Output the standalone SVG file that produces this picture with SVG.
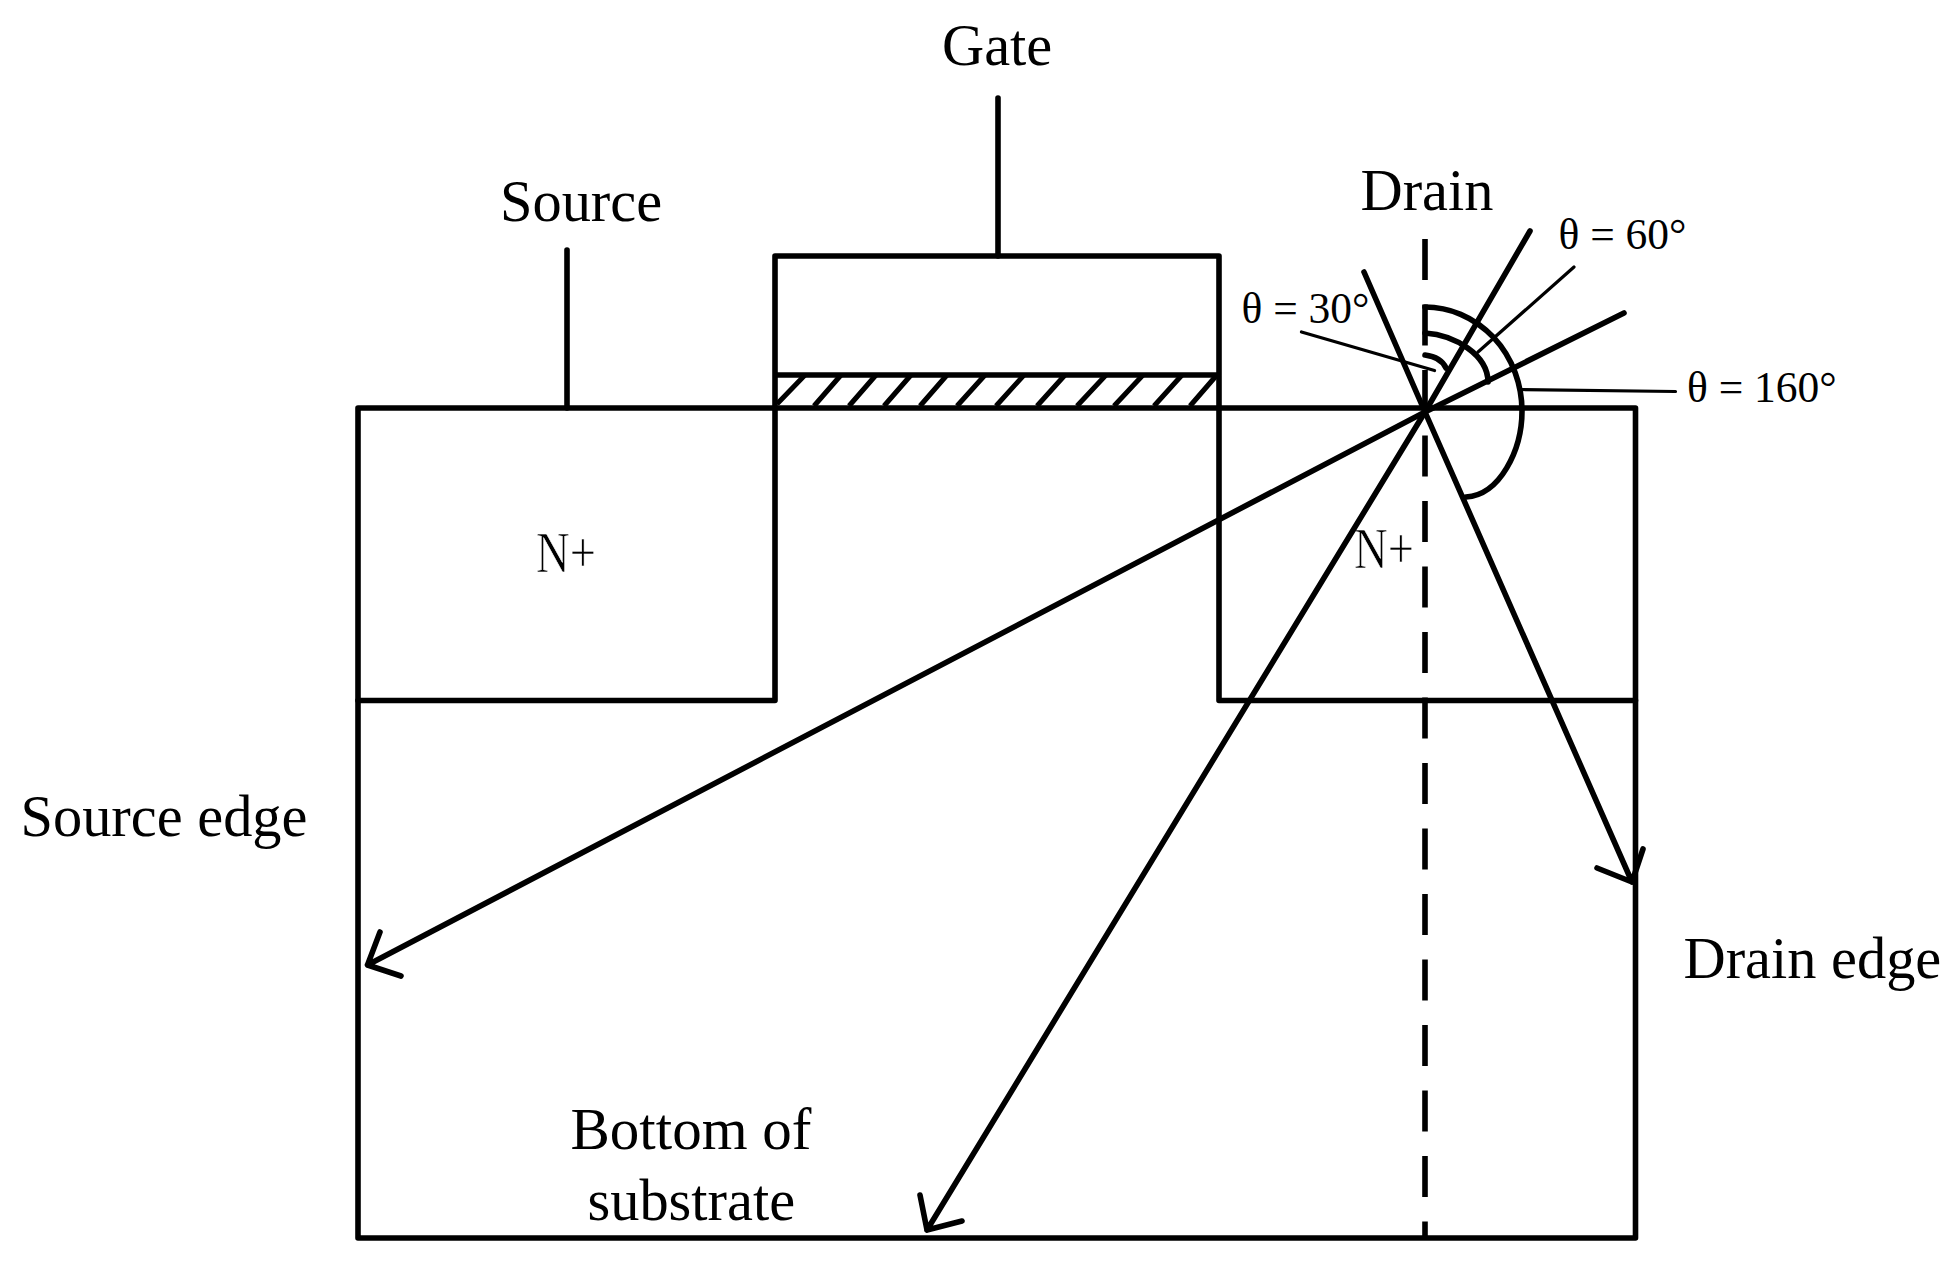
<svg xmlns="http://www.w3.org/2000/svg" width="1952" height="1273" viewBox="0 0 1952 1273">
<style>
.l{fill:none;stroke:#000;stroke-width:5.6;stroke-linecap:round;stroke-linejoin:round}
.h{fill:none;stroke:#000;stroke-width:5}
.t{fill:none;stroke:#000;stroke-width:3.2;stroke-linecap:round}
text{font-family:"Liberation Serif","Times New Roman",serif;fill:#000}
.b{font-size:58.400px}
.s{font-size:43.500px}
.n{font-size:56px;stroke:#fff;stroke-width:.6px}
</style>
<rect width="1952" height="1273" fill="#fff"/>
<g id="substrate"><path class="l" d="M358 408H1635.500V1238H358Z"/><text class="b" x="570.500" y="1149" textLength="241" lengthAdjust="spacingAndGlyphs">Bottom of</text><text class="b" x="587.500" y="1220">substrate</text></g>
<g id="source"><path class="l" d="M358 700.500H775V408"/><path class="l" d="M567 408V250"/><text class="b" x="500" y="220.500">Source</text><text class="n" x="536" y="572" textLength="60" lengthAdjust="spacingAndGlyphs">N+</text></g>
<g id="gate"><path class="l" d="M775 408V256H1219V408M775 375H1219"/><path class="l" d="M998 256V98"/><text class="b" x="942" y="65">Gate</text></g>
<g id="oxide-hatch"><path class="h" d="M777 404L805 375M814 406L841 375M849 406L876 375M884 406L911 375M920 406L947 375M957 406L985 375M996 406L1024 375M1037 406L1065 375M1077 406L1106 375M1114 406L1143 375M1154 406L1182 375M1190 406L1216 376"/></g>
<g id="drain"><path class="l" d="M1219 408V700.500H1635.500"/><text class="b" x="1360.500" y="210">Drain</text><text class="n" x="1354" y="568" textLength="60" lengthAdjust="spacingAndGlyphs">N+</text></g>
<g id="connectors">
<path class="l" d="M1425 239V1238" stroke-dasharray="41 24.500" style="stroke-linecap:butt"/>
<path class="l" d="M1364 272L1425 412L1632 882M1597 868L1632 882L1643 849"/>
<path class="l" d="M1530 231L1425 412L927 1230M920 1195L927 1230L962 1221"/>
<path class="l" d="M1624 313L1425 412L367.500 965M380 932L367.500 965L401 976"/>
<path class="l" d="M1425 307A97 104 0 0 1 1522 411C1522 450 1500 495 1466 497"/>
<path class="l" d="M1425 333C1455 335 1488 355 1488 382"/>
<path class="l" d="M1425 355Q1441 357 1446 368"/>
<path class="t" d="M1301.500 332L1434.500 370.500M1574 267L1478 352M1675.500 391.500L1521.500 389.500"/>
</g>
<g id="labels">
<text class="b" x="20.500" y="836">Source edge</text>
<text class="b" x="1683.500" y="978">Drain edge</text>
<text class="s" x="1558.500" y="249">θ = 60°</text>
<text class="s" x="1241.500" y="323">θ = 30°</text>
<text class="s" x="1687" y="402">θ = 160°</text>
</g>
</svg>
